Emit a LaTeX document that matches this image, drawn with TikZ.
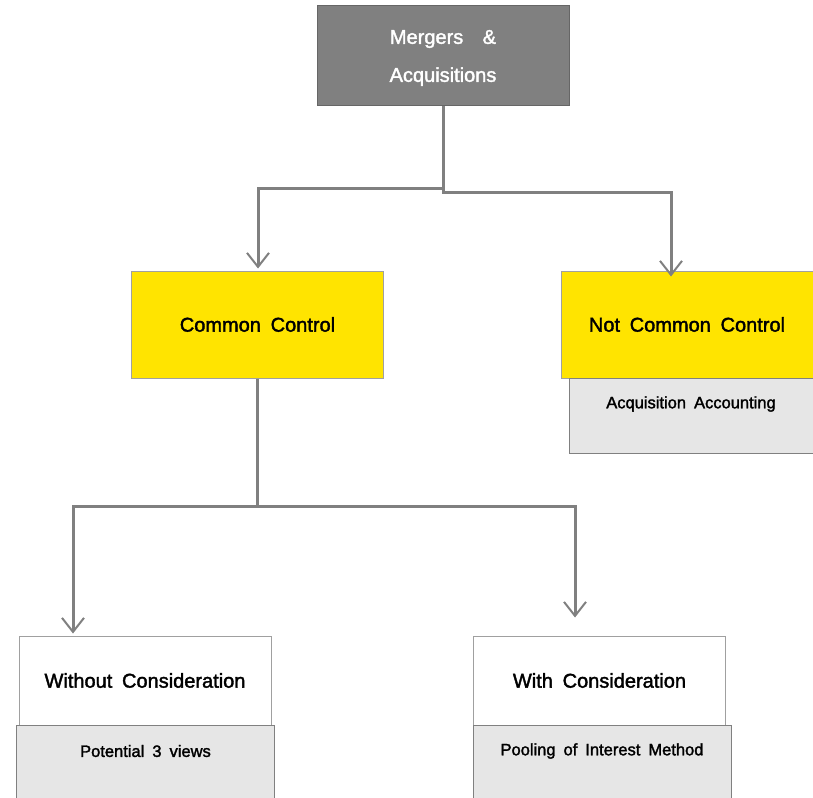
\documentclass[tikz,border=0pt]{standalone}
\usepackage{fontspec}
\setmainfont[WordSpace=1.75, FakeBold=1.8]{Liberation Sans}
\usetikzlibrary{arrows.meta}

\definecolor{cajagris}{RGB}{128,128,128}
\definecolor{amarillo}{RGB}{255,228,0}
\definecolor{grisclaro}{RGB}{230,230,230}
\definecolor{linea}{RGB}{128,128,128}
\definecolor{borde}{RGB}{160,160,160}

\tikzset{
    caja/.style={draw=borde, line width=1pt, minimum width=252pt, inner sep=0pt},
    nota/.style={draw=linea, line width=1.2pt, fill=grisclaro, inner sep=0pt},
    conector/.style={draw=linea, line width=3pt,
        -{Straight Barb[length=14pt,width=22pt,line width=2pt]}},
    grande/.style={font=\fontsize{20}{24}\selectfont},
    chica/.style={font=\fontsize{16.5}{20}\selectfont}
}

\begin{document}
\begin{tikzpicture}[x=1pt, y=-1pt]

    \useasboundingbox (0,0) rectangle (813,797);

    % Caja principal
    \node[caja, draw=cajagris!80!black, fill=cajagris, minimum height=100pt] (ma) at (443,56) {};
    \node[text=white, grande, align=center] (matxt) at (443,58)
          {Mergers~~\&\\[14pt]Acquisitions};

    % Segundo nivel
    \node[caja, fill=amarillo, minimum height=107pt, grande] (cc) at (257.5,324.5) {Common Control};
    \node[caja, fill=amarillo, minimum height=107pt, grande] (ncc) at (687,324.5) {Not Common Control};
    \node[nota, minimum width=246pt, minimum height=75pt, anchor=north west] (aa) at (569,378) {};
    \node[chica] (aatxt) at (691,404) {Acquisition Accounting};

    % Tercer nivel
    \node[caja, fill=white, minimum height=89pt, grande] (wo) at (145,680.5) {Without Consideration};
    \node[caja, fill=white, minimum height=89pt, grande] (wi) at (599.5,680.5) {With Consideration};
    \node[nota, minimum width=258pt, minimum height=90pt, anchor=north west] (pv) at (16,725) {};
    \node[chica] (pvtxt) at (145.5,751) {Potential 3 views};
    \node[nota, minimum width=258pt, minimum height=90pt, anchor=north west] (pi) at (473,725) {};
    \node[chica] (pitxt) at (602,751) {Pooling of Interest Method};

    % Conectores
    \coordinate (j1) at (443,188);
    \coordinate (j2) at (257.5,506);
    \draw[conector] (ma.south) -- (j1) -| ([xshift=0.5pt,yshift=2pt]cc.north);
    \draw[conector] (ma.south) |- (671,192) -- ([xshift=-16pt,yshift=-6pt]ncc.north);
    \draw[conector, -] (cc.south) -- (j2);
    \draw[conector] (j2) -| ([xshift=-72pt,yshift=2pt]wo.north);
    \draw[conector] (j2) -| ([xshift=-24.5pt,yshift=18pt]wi.north);

\end{tikzpicture}
\end{document}
